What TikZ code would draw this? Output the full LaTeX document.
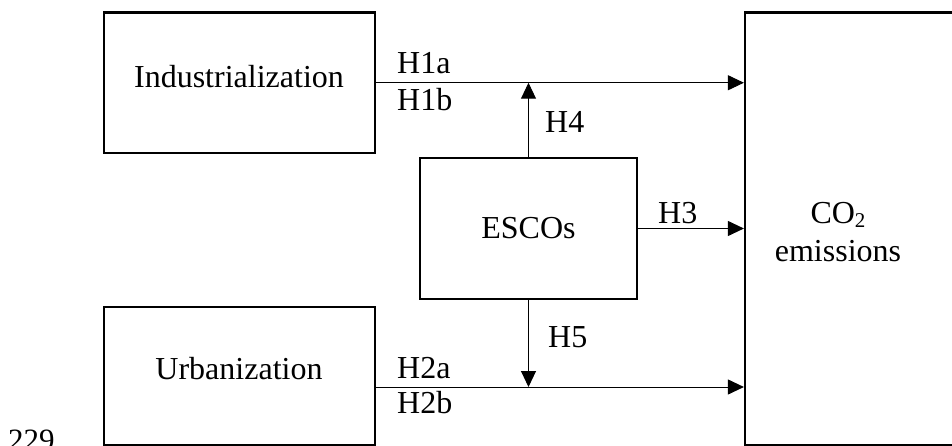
\documentclass[tikz,border=0pt]{standalone}
\usepackage{fontspec}
\setmainfont{Liberation Serif}
\usetikzlibrary{arrows.meta}
\begin{document}
\begin{tikzpicture}[x=1pt,y=-1pt,
  box/.style={draw,line width=2.2pt,rectangle,inner sep=0pt},
  lbl/.style={inner sep=0pt,font=\fontsize{32}{36}\selectfont},
  arr/.style={line width=1pt,-{Triangle[length=16pt,width=15pt]}},
  lab/.style={inner sep=0pt,anchor=west,font=\fontsize{32}{36}\selectfont}]
\useasboundingbox (0,0) rectangle (952,446);
\node[box,minimum width=271pt,minimum height=140.5pt] (ind) at (239.25,82.75) {};
\node[lbl] (indt) at (239,77) {Industrialization};
\node[box,minimum width=271pt,minimum height=138pt] (urb) at (239.25,376) {};
\node[lbl] (urbt) at (239,369) {Urbanization};
\node[box,minimum width=217pt,minimum height=141pt] (esc) at (528.5,228.5) {};
\node[lbl] (esct) at (528.5,228.5) {ESCOs};
\node[box,minimum width=225pt,minimum height=432.5pt] (co2) at (857.5,228.75) {};
\node[lbl,align=center] (co2t) at (838,232) {CO\raisebox{-0.12em}{\fontsize{21}{21}\selectfont 2}\\[2pt]emissions};
\coordinate (h2s) at (375,387);
\draw[arr] (ind.east) -- (co2.west |- ind.east);
\draw[arr] (esc.east) -- (co2.west |- esc.east);
\draw[arr] (h2s) -- (co2.west |- h2s);
\draw[arr] (esc.north) -- (esc.north |- ind.east);
\draw[arr] (esc.south) -- (esc.south |- h2s);
\node[lab] (h1a) at (397,63) {H1a};
\node[lab] (h1b) at (397,100) {H1b};
\node[lab] (h4) at (545,122) {H4};
\node[lab] (h3) at (658,213) {H3};
\node[lab] (h5) at (548,337) {H5};
\node[lab] (h2a) at (397,368) {H2a};
\node[lab] (h2b) at (397,403) {H2b};
\node[inner sep=0pt,anchor=base west,font=\fontsize{31}{36}\selectfont] (pg) at (8,450) {229};
\end{tikzpicture}
\end{document}
